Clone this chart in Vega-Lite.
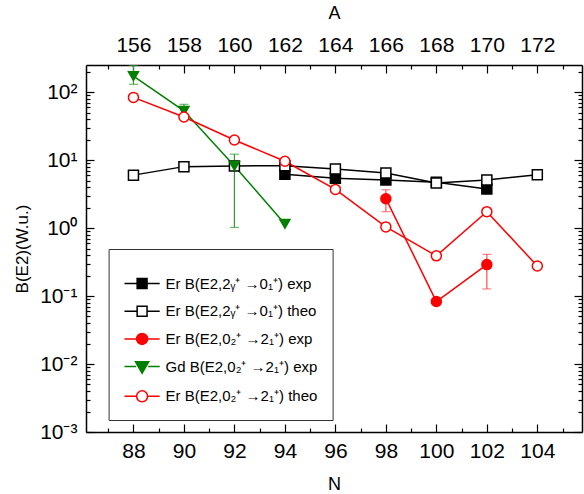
{
  "$schema": "https://vega.github.io/schema/vega-lite/v6.json",
  "width": 496,
  "height": 367,
  "autosize": {"type": "none"},
  "padding": {"left": 86, "top": 65, "right": 2, "bottom": 62},
  "config": {
    "view": {"stroke": null},
    "axis": {
      "labelFont": "Liberation Sans", "titleFont": "Liberation Sans",
      "labelColor": "black", "titleColor": "black", "domainColor": "black", "tickColor": "black",
      "grid": false, "titleFontWeight": "normal", "domainWidth": 1.5, "tickWidth": 1.2,
      "labelFontSize": 21, "titleFontSize": 18, "labelOverlap": false, "labelFlush": false
    },
    "legend": {
      "labelFont": "Liberation Sans", "labelFontSize": 15, "labelColor": "black",
      "symbolSize": 121, "symbolStrokeWidth": 1.5, "symbolOpacity": 1
    }
  },
  "datasets": {
    "pts": [
      {"series": "Er B(E2,2ᵧ⁺ →0₁⁺) exp", "N": 94, "v": 6.2},
      {"series": "Er B(E2,2ᵧ⁺ →0₁⁺) exp", "N": 96, "v": 5.4},
      {"series": "Er B(E2,2ᵧ⁺ →0₁⁺) exp", "N": 98, "v": 5.1},
      {"series": "Er B(E2,2ᵧ⁺ →0₁⁺) exp", "N": 100, "v": 4.7},
      {"series": "Er B(E2,2ᵧ⁺ →0₁⁺) exp", "N": 102, "v": 3.75},
      {"series": "Er B(E2,2ᵧ⁺ →0₁⁺) theo", "N": 88, "v": 6.0},
      {"series": "Er B(E2,2ᵧ⁺ →0₁⁺) theo", "N": 90, "v": 8.0},
      {"series": "Er B(E2,2ᵧ⁺ →0₁⁺) theo", "N": 92, "v": 8.2},
      {"series": "Er B(E2,2ᵧ⁺ →0₁⁺) theo", "N": 94, "v": 8.25},
      {"series": "Er B(E2,2ᵧ⁺ →0₁⁺) theo", "N": 96, "v": 7.4},
      {"series": "Er B(E2,2ᵧ⁺ →0₁⁺) theo", "N": 98, "v": 6.45},
      {"series": "Er B(E2,2ᵧ⁺ →0₁⁺) theo", "N": 100, "v": 4.6},
      {"series": "Er B(E2,2ᵧ⁺ →0₁⁺) theo", "N": 102, "v": 5.1},
      {"series": "Er B(E2,2ᵧ⁺ →0₁⁺) theo", "N": 104, "v": 6.1},
      {"series": "Er B(E2,0₂⁺ →2₁⁺) exp", "N": 98, "v": 2.7},
      {"series": "Er B(E2,0₂⁺ →2₁⁺) exp", "N": 100, "v": 0.083},
      {"series": "Er B(E2,0₂⁺ →2₁⁺) exp", "N": 102, "v": 0.29},
      {"series": "Gd B(E2,0₂⁺ →2₁⁺) exp", "N": 88, "v": 172},
      {"series": "Gd B(E2,0₂⁺ →2₁⁺) exp", "N": 90, "v": 53},
      {"series": "Gd B(E2,0₂⁺ →2₁⁺) exp", "N": 92, "v": 8.2},
      {"series": "Gd B(E2,0₂⁺ →2₁⁺) exp", "N": 94, "v": 1.15},
      {"series": "Er B(E2,0₂⁺ →2₁⁺) theo", "N": 88, "v": 83.5},
      {"series": "Er B(E2,0₂⁺ →2₁⁺) theo", "N": 90, "v": 43},
      {"series": "Er B(E2,0₂⁺ →2₁⁺) theo", "N": 92, "v": 19.7},
      {"series": "Er B(E2,0₂⁺ →2₁⁺) theo", "N": 94, "v": 9.6},
      {"series": "Er B(E2,0₂⁺ →2₁⁺) theo", "N": 96, "v": 3.7},
      {"series": "Er B(E2,0₂⁺ →2₁⁺) theo", "N": 98, "v": 1.04},
      {"series": "Er B(E2,0₂⁺ →2₁⁺) theo", "N": 100, "v": 0.39},
      {"series": "Er B(E2,0₂⁺ →2₁⁺) theo", "N": 102, "v": 1.74},
      {"series": "Er B(E2,0₂⁺ →2₁⁺) theo", "N": 104, "v": 0.276}
    ],
    "err": [
      {"series": "Er B(E2,0₂⁺ →2₁⁺) exp", "N": 98, "lo": 1.74, "hi": 3.66},
      {"series": "Er B(E2,0₂⁺ →2₁⁺) exp", "N": 102, "lo": 0.127, "hi": 0.41},
      {"series": "Gd B(E2,0₂⁺ →2₁⁺) exp", "N": 88, "lo": 130, "hi": 245},
      {"series": "Gd B(E2,0₂⁺ →2₁⁺) exp", "N": 90, "lo": 42, "hi": 66},
      {"series": "Gd B(E2,0₂⁺ →2₁⁺) exp", "N": 92, "lo": 1.02, "hi": 12.2}
    ]
  },
  "layer": [
    {
      "data": {"name": "pts"},
      "mark": {"type": "line", "strokeWidth": 1.5, "clip": true},
      "encoding": {
        "x": {"field": "N", "type": "quantitative",
          "scale": {"domain": [86.12, 105.77], "nice": false, "zero": false},
          "axis": {"orient": "bottom", "title": "N", "values": [87,88,89,90,91,92,93,94,95,96,97,98,99,100,101,102,103,104,105],
            "labelExpr": "datum.value % 2 == 0 ? datum.value : ''",
            "tickSize": {"condition": {"test": "datum.value % 2 == 0", "value": -8}, "value": -4},
            "labelPadding": 16, "titlePadding": 10}},
        "y": {"field": "v", "type": "quantitative",
          "scale": {"type": "log", "domain": [0.001, 250], "nice": false},
          "axis": {"orient": "left", "title": "B(E2)(W.u.)", "titleFontSize": 17,
            "values": [0.001,0.002,0.003,0.004,0.005,0.006,0.007,0.008,0.009,0.01,0.02,0.03,0.04,0.05,0.06,0.07,0.08,0.09,0.1,0.2,0.3,0.4,0.5,0.6,0.7,0.8,0.9,1,2,3,4,5,6,7,8,9,10,20,30,40,50,60,70,80,90,100,200],
            "labelExpr": "datum.value == 100 ? '10²' : datum.value == 10 ? '10¹' : datum.value == 1 ? '10⁰' : datum.value == 0.1 ? '10⁻¹' : datum.value == 0.01 ? '10⁻²' : datum.value == 0.001 ? '10⁻³' : ''",
            "tickSize": {"condition": {"test": "datum.value == 100 || datum.value == 10 || datum.value == 1 || datum.value == 0.1 || datum.value == 0.01 || datum.value == 0.001", "value": -8}, "value": -4},
            "labelPadding": 17, "titlePadding": 8}},
        "detail": {"field": "series"},
        "stroke": {"field": "series", "type": "nominal", "legend": null,
          "scale": {"domain": ["Er B(E2,2ᵧ⁺ →0₁⁺) exp", "Er B(E2,2ᵧ⁺ →0₁⁺) theo", "Er B(E2,0₂⁺ →2₁⁺) exp", "Gd B(E2,0₂⁺ →2₁⁺) exp", "Er B(E2,0₂⁺ →2₁⁺) theo"],
            "range": ["black", "black", "red", "#007f00", "red"]}}
      }
    },
    {
      "data": {"name": "err"},
      "mark": {"type": "rule", "strokeWidth": 1.2, "clip": true},
      "encoding": {
        "x": {"field": "N", "type": "quantitative",
          "scale": {"domain": [86.12, 105.77], "nice": false, "zero": false},
          "axis": {"orient": "top", "title": "A", "values": [87,88,89,90,91,92,93,94,95,96,97,98,99,100,101,102,103,104,105],
            "labelExpr": "datum.value % 2 == 0 ? datum.value + 68 : ''",
            "tickSize": {"condition": {"test": "datum.value % 2 == 0", "value": -8}, "value": -4},
            "labelPadding": 18, "titlePadding": 8}},
        "y": {"field": "lo", "type": "quantitative",
          "scale": {"type": "log", "domain": [0.001, 250], "nice": false},
          "axis": {"orient": "right", "title": null,
            "values": [0.001,0.002,0.003,0.004,0.005,0.006,0.007,0.008,0.009,0.01,0.02,0.03,0.04,0.05,0.06,0.07,0.08,0.09,0.1,0.2,0.3,0.4,0.5,0.6,0.7,0.8,0.9,1,2,3,4,5,6,7,8,9,10,20,30,40,50,60,70,80,90,100,200],
            "labels": false,
            "tickSize": {"condition": {"test": "datum.value == 100 || datum.value == 10 || datum.value == 1 || datum.value == 0.1 || datum.value == 0.01 || datum.value == 0.001", "value": -8}, "value": -4}}},
        "y2": {"field": "hi"},
        "stroke": {"field": "series", "type": "nominal", "legend": null,
          "scale": {"domain": ["Er B(E2,0₂⁺ →2₁⁺) exp", "Gd B(E2,0₂⁺ →2₁⁺) exp"], "range": ["#ff4d4d", "#2e9a2e"]}}
      }
    },
    {
      "data": {"name": "err"},
      "mark": {"type": "tick", "orient": "horizontal", "size": 9, "thickness": 1.2, "clip": true},
      "encoding": {
        "x": {"field": "N", "type": "quantitative", "scale": {"domain": [86.12, 105.77], "nice": false, "zero": false}, "axis": null},
        "y": {"field": "lo", "type": "quantitative", "scale": {"type": "log", "domain": [0.001, 250], "nice": false}, "axis": null},
        "color": {"field": "series", "type": "nominal", "legend": null,
          "scale": {"domain": ["Er B(E2,0₂⁺ →2₁⁺) exp", "Gd B(E2,0₂⁺ →2₁⁺) exp"], "range": ["#ff4d4d", "#2e9a2e"]}}
      }
    },
    {
      "data": {"name": "err"},
      "mark": {"type": "tick", "orient": "horizontal", "size": 9, "thickness": 1.2, "clip": true},
      "encoding": {
        "x": {"field": "N", "type": "quantitative", "scale": {"domain": [86.12, 105.77], "nice": false, "zero": false}, "axis": null},
        "y": {"field": "hi", "type": "quantitative", "scale": {"type": "log", "domain": [0.001, 250], "nice": false}, "axis": null},
        "color": {"field": "series", "type": "nominal", "legend": null,
          "scale": {"domain": ["Er B(E2,0₂⁺ →2₁⁺) exp", "Gd B(E2,0₂⁺ →2₁⁺) exp"], "range": ["#ff4d4d", "#2e9a2e"]}}
      }
    },
    {
      "data": {"name": "pts"},
      "mark": {"type": "point", "filled": true, "strokeWidth": 1.5, "opacity": 1, "clip": true},
      "encoding": {
        "x": {"field": "N", "type": "quantitative", "scale": {"domain": [86.12, 105.77], "nice": false, "zero": false}, "axis": null},
        "y": {"field": "v", "type": "quantitative", "scale": {"type": "log", "domain": [0.001, 250], "nice": false}, "axis": null},
        "shape": {"field": "series", "type": "nominal", "legend": null,
          "scale": {"domain": ["Er B(E2,2ᵧ⁺ →0₁⁺) exp", "Er B(E2,2ᵧ⁺ →0₁⁺) theo", "Er B(E2,0₂⁺ →2₁⁺) exp", "Gd B(E2,0₂⁺ →2₁⁺) exp", "Er B(E2,0₂⁺ →2₁⁺) theo"],
            "range": ["square", "square", "circle", "triangle-down", "circle"]}},
        "fill": {"field": "series", "type": "nominal", "legend": null,
          "scale": {"domain": ["Er B(E2,2ᵧ⁺ →0₁⁺) exp", "Er B(E2,2ᵧ⁺ →0₁⁺) theo", "Er B(E2,0₂⁺ →2₁⁺) exp", "Gd B(E2,0₂⁺ →2₁⁺) exp", "Er B(E2,0₂⁺ →2₁⁺) theo"],
            "range": ["black", "white", "red", "#007f00", "white"]}},
        "stroke": {"field": "series", "type": "nominal", "legend": null,
          "scale": {"domain": ["Er B(E2,2ᵧ⁺ →0₁⁺) exp", "Er B(E2,2ᵧ⁺ →0₁⁺) theo", "Er B(E2,0₂⁺ →2₁⁺) exp", "Gd B(E2,0₂⁺ →2₁⁺) exp", "Er B(E2,0₂⁺ →2₁⁺) theo"],
            "range": ["black", "black", "red", "#007f00", "red"]}},
        "size": {"field": "series", "type": "nominal", "legend": null,
          "scale": {"domain": ["Er B(E2,2ᵧ⁺ →0₁⁺) exp", "Er B(E2,2ᵧ⁺ →0₁⁺) theo", "Er B(E2,0₂⁺ →2₁⁺) exp", "Gd B(E2,0₂⁺ →2₁⁺) exp", "Er B(E2,0₂⁺ →2₁⁺) theo"],
            "range": [100, 100, 144, 170, 144]}}
      }
    },
    {
      "data": {"name": "pts"},
      "mark": {"type": "point", "filled": true, "strokeWidth": 1.5, "opacity": 0},
      "encoding": {
        "x": {"field": "N", "type": "quantitative", "scale": {"domain": [86.12, 105.77], "nice": false, "zero": false}, "axis": null},
        "y": {"field": "v", "type": "quantitative", "scale": {"type": "log", "domain": [0.001, 250], "nice": false}, "axis": null},
        "shape": {"field": "series", "type": "nominal",
          "scale": {"domain": ["Er B(E2,2ᵧ⁺ →0₁⁺) exp", "Er B(E2,2ᵧ⁺ →0₁⁺) theo", "Er B(E2,0₂⁺ →2₁⁺) exp", "Gd B(E2,0₂⁺ →2₁⁺) exp", "Er B(E2,0₂⁺ →2₁⁺) theo"],
            "range": [
              "M-3.2,0H-0.9M0.9,0H3.2M-0.9,-0.9H0.9V0.9H-0.9Z",
              "M-3.2,0H-0.9M0.9,0H3.2M-0.9,-0.9H0.9V0.9H-0.9Z",
              "M-3.2,0H-1M1,0H3.2M-1,0A1,1,0,1,1,1,0A1,1,0,1,1,-1,0Z",
              "M-3.2,0H-1.1M1.1,0H3.2M-1.2,-0.9L1.2,-0.9L0,1.2Z",
              "M-3.2,0H-1M1,0H3.2M-1,0A1,1,0,1,1,1,0A1,1,0,1,1,-1,0Z"
            ]},
          "legend": {"title": " ", "titleFontSize": 8, "titlePadding": 4, "orient": "none", "legendX": 22.6, "legendY": 184,
            "strokeColor": "#333333", "fillColor": "white", "padding": 15,
            "symbolOffset": 11, "labelOffset": 16, "rowPadding": 10.7, "symbolOpacity": 1}},
        "fill": {"field": "series", "type": "nominal",
          "scale": {"domain": ["Er B(E2,2ᵧ⁺ →0₁⁺) exp", "Er B(E2,2ᵧ⁺ →0₁⁺) theo", "Er B(E2,0₂⁺ →2₁⁺) exp", "Gd B(E2,0₂⁺ →2₁⁺) exp", "Er B(E2,0₂⁺ →2₁⁺) theo"],
            "range": ["black", "white", "red", "#007f00", "white"]}},
        "stroke": {"field": "series", "type": "nominal",
          "scale": {"domain": ["Er B(E2,2ᵧ⁺ →0₁⁺) exp", "Er B(E2,2ᵧ⁺ →0₁⁺) theo", "Er B(E2,0₂⁺ →2₁⁺) exp", "Gd B(E2,0₂⁺ →2₁⁺) exp", "Er B(E2,0₂⁺ →2₁⁺) theo"],
            "range": ["black", "black", "red", "#007f00", "red"]}}
      }
    }
  ],
  "resolve": {
    "scale": {"shape": "independent", "fill": "independent", "stroke": "independent", "color": "independent", "size": "independent"},
    "axis": {"x": "independent", "y": "independent"}
  }
}
